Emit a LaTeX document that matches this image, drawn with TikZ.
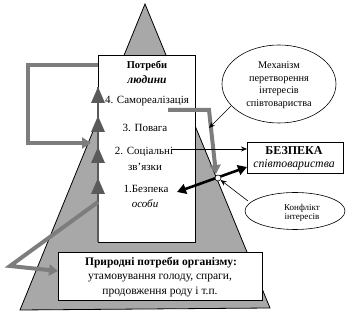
\documentclass[tikz,border=0pt]{standalone}
\usepackage{fontspec}
\setmainfont{Liberation Serif}
\usetikzlibrary{arrows.meta,shapes.geometric}
\definecolor{trigray}{RGB}{168,168,168}
\definecolor{pathgray}{RGB}{125,125,125}
\definecolor{markgray}{RGB}{90,90,90}
\tikzset{
  txt/.style={inner sep=0pt, font=\fontsize{11}{13}\selectfont, align=center},
  boxst/.style={draw=black, fill=white, line width=0.6pt},
  thickgray/.style={draw=pathgray, line width=4pt, line join=miter,
     -{Triangle[length=9pt,width=11pt]}},
  marktri/.style={fill=markgray},
  thinarrow/.style={draw=black, line width=0.6pt, -{Stealth[length=6pt,width=5pt]}},
}
\begin{document}
\begin{tikzpicture}[x=1pt,y=-1pt]
\useasboundingbox (0,0) rectangle (357,323);
% big triangle
\filldraw[fill=trigray, draw=black, line width=0.8pt] (145,4) -- (20,310) -- (270,308) -- cycle;
% boxes
\node[boxst, minimum width=97pt, minimum height=187pt, inner sep=0pt, anchor=north west] (needs) at (98,55) {};
\node[boxst, minimum width=204pt, minimum height=48pt, inner sep=0pt, anchor=north west] (nat) at (58,252) {};
\node[boxst, minimum width=96pt, minimum height=31pt, inner sep=0pt, anchor=north west] (safe) at (247,142) {};
% left dark line
\coordinate (l1) at (98,87);
\coordinate (l2) at (98,242);
\draw[markgray, line width=1.6pt] (l1) -- (l2);
% small triangles
\foreach \y in {87,116,147,178}{
  \fill[marktri] (98,\y) -- (91,\y+16) -- (105,\y+16) -- cycle;
}
% texts in needs box
\node[txt, font=\fontsize{10.5}{12}\selectfont\bfseries] (t0) at (147,66) {Потреби};
\node[txt, font=\fontsize{11.5}{12}\selectfont\bfseries\itshape] (t0b) at (147,80) {людини};
\node[txt] (t4) at (147,101) {4. Самореалізація};
\node[txt] (t3) at (145,128) {3. Повага};
\node[txt] (t2) at (144,152) {2. Соціальні};
\node[txt] (t2b) at (145,167) {зв’язки};
\node[txt] (t1) at (146,189) {1.Безпека};
\node[txt, font=\fontsize{11}{12}\selectfont\itshape] (t1b) at (145,204) {особи};
% natural needs text
\node[txt, font=\fontsize{11.5}{13}\selectfont\bfseries] (n1) at (161,263) {Природні потреби організму:};
\node[txt, font=\fontsize{11.5}{13}\selectfont] (n2) at (160,278) {утамовування голоду, спраги,};
\node[txt, font=\fontsize{11.5}{13}\selectfont] (n3) at (160,292) {продовження роду і т.п.};
% safety box text
\node[txt, font=\fontsize{12}{13}\selectfont\bfseries] (s1) at (294,151) {БЕЗПЕКА};
\node[txt, font=\fontsize{11.8}{13}\selectfont\itshape] (s2) at (294,165) {співтовариства};
% mechanism ellipse
\node[draw=black, fill=white, ellipse, line width=0.6pt, minimum width=114pt, minimum height=78pt, inner sep=0pt] (mech) at (279,84) {};
\node[txt, align=center, font=\fontsize{10.3}{12.5}\selectfont] (mecht) at (279,85) {Механізм\\перетворення\\інтересів\\співтовариства};
% conflict ellipse
\node[draw=black, fill=white, ellipse, line width=0.6pt, minimum width=100pt, minimum height=37pt, inner sep=0pt] (conf) at (295,211) {};
\node[txt, align=center, font=\fontsize{9}{9.5}\selectfont] (conft) at (302,213) {Конфлікт\\інтересів};
% gray loop arrow left-top
\coordinate (g1) at (98,65);
\coordinate (g2) at (28,65);
\coordinate (g3) at (28,143);
\coordinate (g4) at (91,143);
\draw[thickgray] (g1) -- (g2) -- (g3) -- (g4);
% gray arrow bottom-left
\coordinate (h1) at (98,202);
\coordinate (h2) at (10,266);
\coordinate (h3) at (58,271);
\draw[thickgray] (h1) -- (h2) -- (h3);
% gray arrow right
\coordinate (r1) at (168,110);
\coordinate (r2) at (209,110);
\coordinate (r3) at (216,174);
\draw[thickgray] (r1) -- (r2) -- (r3);
% thin arrow from social ties to safety
\coordinate (a1) at (172,149);
\draw[thinarrow] (a1) -- (safe.west |- a1);
% thick double arrow
\coordinate (d1) at (177,192);
\coordinate (d2) at (247,167);
\draw[black, line width=2.6pt, {Triangle[length=9pt,width=10pt]}-{Triangle[length=9pt,width=10pt]}] (d1) -- (d2);
% circle
\node[circle, draw=black, fill=white, line width=0.6pt, minimum size=6pt, inner sep=0pt] (cc) at (218,178) {};
% mechanism arrow
\coordinate (m1) at (231,106);
\coordinate (m2) at (209,128);
\draw[thinarrow] (m1) -- (m2);
% conflict arrow
\coordinate (k1) at (248,201);
\draw[thinarrow] (k1) -- (cc);
\end{tikzpicture}
\end{document}
